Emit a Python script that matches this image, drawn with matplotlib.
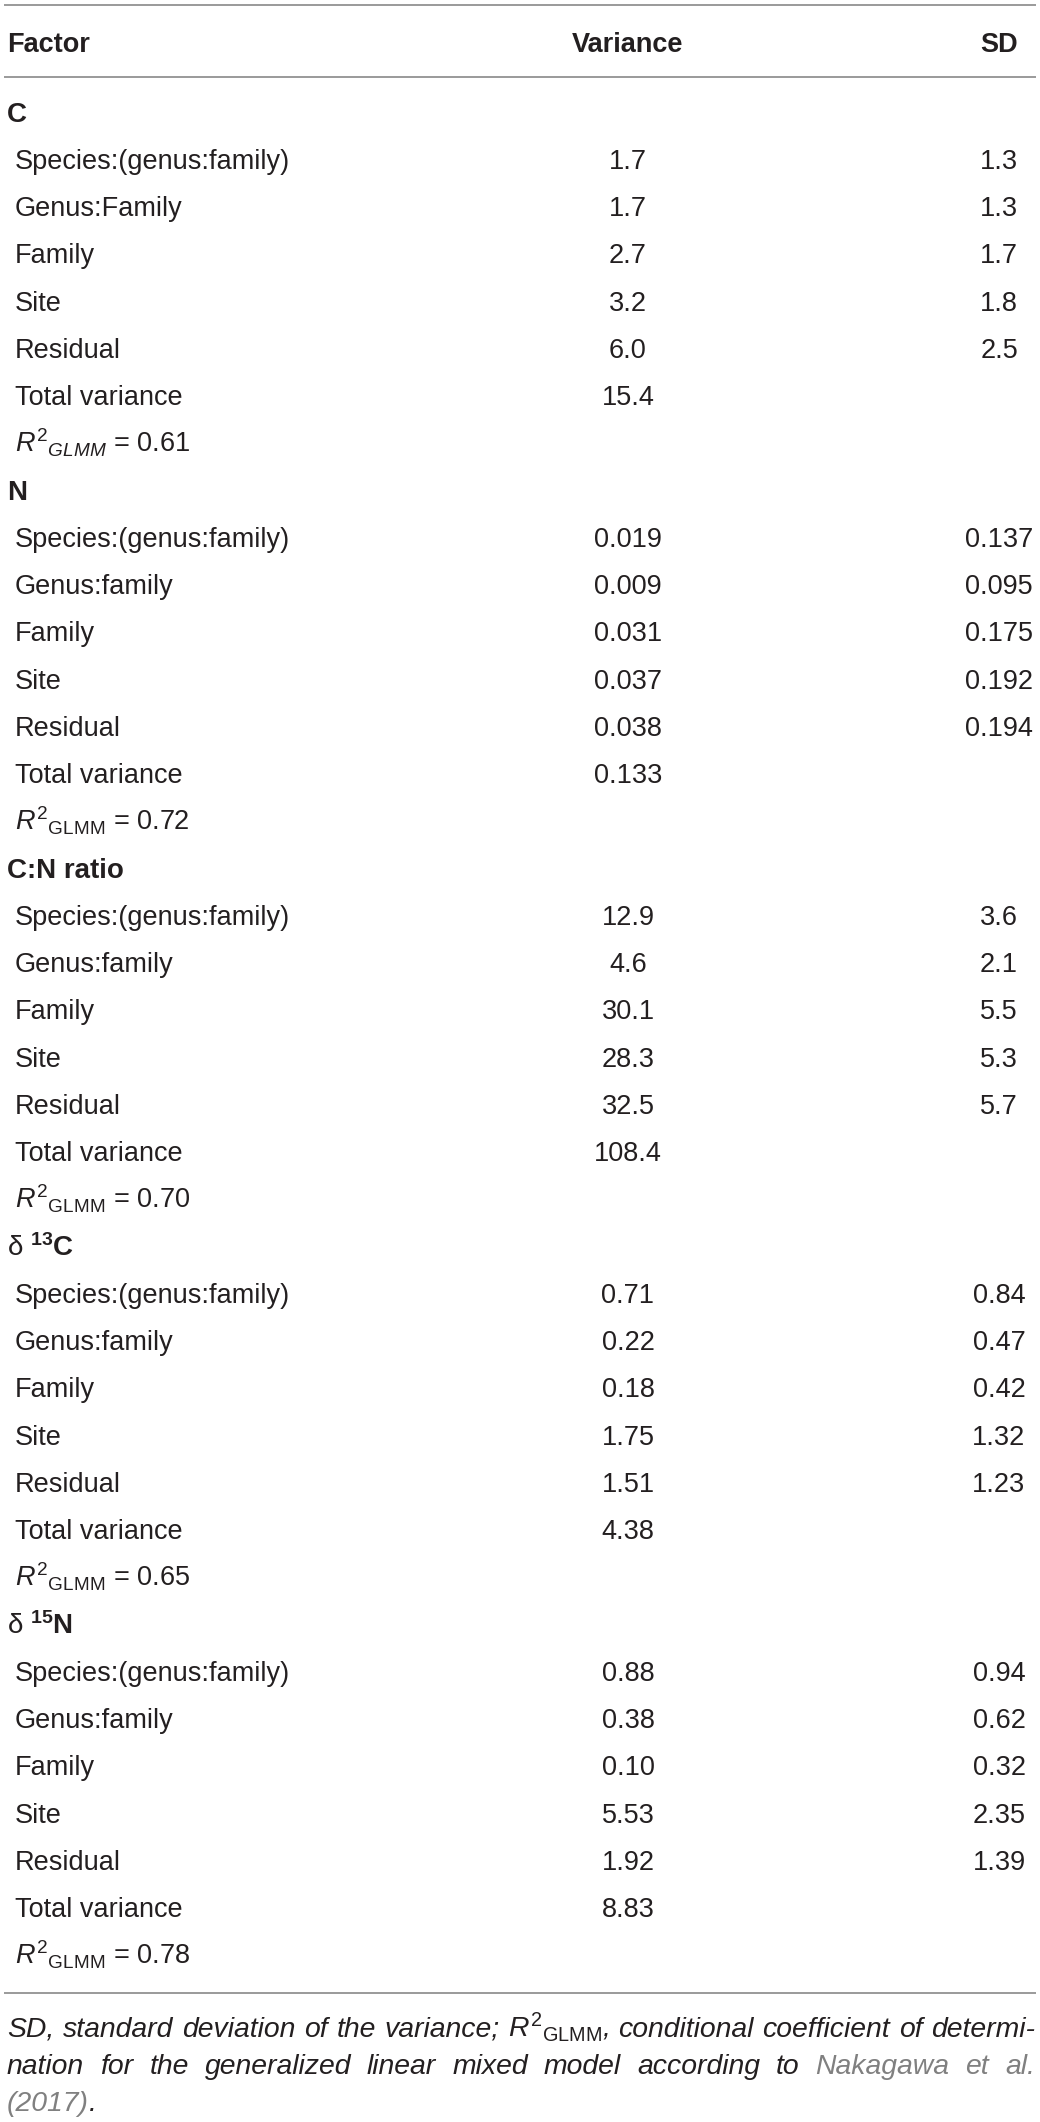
import matplotlib
matplotlib.use('Agg')
import matplotlib.pyplot as plt

plt.rcParams['font.family'] = ['Liberation Sans', 'DejaVu Sans']
plt.rcParams['mathtext.fontset'] = 'custom'
plt.rcParams['mathtext.rm'] = 'Liberation Sans'
plt.rcParams['mathtext.it'] = 'Liberation Sans:italic'
plt.rcParams['mathtext.bf'] = 'Liberation Sans:bold'

# Table content
columns = ['Factor', 'Variance', 'SD']
groups = ['C', 'N', 'C:N ratio',
          r'$\mathrm{\delta}\ ^{\mathbf{13}}\mathbf{C}$',
          r'$\mathrm{\delta}\ ^{\mathbf{15}}\mathbf{N}$']
factors_c = ['Species:(genus:family)', 'Genus:Family', 'Family', 'Site', 'Residual']
factors = ['Species:(genus:family)', 'Genus:family', 'Family', 'Site', 'Residual']

var_c = ['1.7', '1.7', '2.7', '3.2', '6.0']
sd_c = ['1.3', '1.3', '1.7', '1.8', '2.5']
var_n = ['0.019', '0.009', '0.031', '0.037', '0.038']
sd_n = ['0.137', '0.095', '0.175', '0.192', '0.194']
var_cn = ['12.9', '4.6', '30.1', '28.3', '32.5']
sd_cn = ['3.6', '2.1', '5.5', '5.3', '5.7']
var_d13c = ['0.71', '0.22', '0.18', '1.75', '1.51']
sd_d13c = ['0.84', '0.47', '0.42', '1.32', '1.23']
var_d15n = ['0.88', '0.38', '0.10', '5.53', '1.92']
sd_d15n = ['0.94', '0.62', '0.32', '2.35', '1.39']

totals = ['15.4', '0.133', '108.4', '4.38', '8.83']
r2_values = ['0.61', '0.72', '0.70', '0.65', '0.78']

variances = [var_c, var_n, var_cn, var_d13c, var_d15n]
sds = [sd_c, sd_n, sd_cn, sd_d13c, sd_d15n]
factor_lists = [factors_c, factors, factors, factors, factors]

line1 = ['SD,', 'standard', 'deviation', 'of', 'the', 'variance;',
         r'$R^{2}{}_{\mathrm{GLMM}}$,', 'conditional', 'coefficient', 'of', 'determi-']
line2 = ['nation', 'for', 'the', 'generalized', 'linear', 'mixed', 'model',
         'according', 'to', 'Nakagawa', 'et', 'al.']
cited = ['Nakagawa', 'et', 'al.']

# Layout (pixels, 1 data unit = 1 px)
W, H = 1040, 2122
TXT = '#231f20'
LINE = '#9a9a9a'
LINK = '#808080'
FS = 19.5
x_head, x_row, x_var, x_sd = 7, 15, 628, 999
first_y, step = 112, 47.25
base = 9.7  # cap-centre to baseline

fig = plt.figure(figsize=(W / 100, H / 100), dpi=100)
ax = fig.add_axes([0, 0, 1, 1])
ax.set_xlim(0, W)
ax.set_ylim(H, 0)
ax.axis('off')

# header
ax.text(x_head, 42 + base, columns[0], fontsize=FS, fontweight='bold', color=TXT, va='baseline')
ax.text(x_var, 42 + base, columns[1], fontsize=FS, fontweight='bold', color=TXT, va='baseline', ha='center')
ax.text(x_sd, 42 + base, columns[2], fontsize=FS, fontweight='bold', color=TXT, va='baseline', ha='center')

ax.hlines([5, 77], 4, 1036, color=LINE, lw=1.4)

row = 0
for g, name in enumerate(groups):
    y = first_y + row * step + base
    ax.text(x_head, y, name, fontsize=FS + 0.5, fontweight='bold', color=TXT, va='baseline')
    row += 1
    for f, v, s in zip(factor_lists[g], variances[g], sds[g]):
        y = first_y + row * step + base
        ax.text(x_row, y, f, fontsize=FS, color=TXT, va='baseline')
        ax.text(x_var, y, v, fontsize=FS, color=TXT, va='baseline', ha='center')
        ax.text(x_sd, y, s, fontsize=FS, color=TXT, va='baseline', ha='center')
        row += 1
    y = first_y + row * step + base
    ax.text(x_row, y, 'Total variance', fontsize=FS, color=TXT, va='baseline')
    ax.text(x_var, y, totals[g], fontsize=FS, color=TXT, va='baseline', ha='center')
    row += 1
    y = first_y + row * step + base
    sub = r'\mathit{GLMM}' if g == 0 else r'\mathrm{GLMM}'
    ax.text(x_row, y, r'$R^{2}{}_{' + sub + r'}$ = ' + r2_values[g],
            fontsize=FS, color=TXT, va='baseline')
    row += 1

ax.hlines([1993], 4, 1036, color=LINE, lw=1.4)

# footnote, justified lines
renderer = fig.canvas.get_renderer()


def natural_width(words, fs):
    tmp = [ax.text(0, 0, w, fontsize=fs, fontstyle='italic') for w in words]
    total = sum(t.get_window_extent(renderer).width for t in tmp)
    for t in tmp:
        t.remove()
    return total + (len(words) - 1) * 0.278 * fs * 100 / 72


def justify(words, colors, y, x0, x1, fs):
    texts = [ax.text(0, y, w, color=c, fontsize=fs, fontstyle='italic', va='baseline')
             for w, c in zip(words, colors)]
    widths = [t.get_window_extent(renderer).width for t in texts]
    gap = (x1 - x0 - sum(widths)) / (len(texts) - 1)
    x = x0
    for t, w in zip(texts, widths):
        t.set_x(x)
        x += w + gap


# footnote size so that the first line fills the width with ordinary spaces
fs_note = FS * 1026 / natural_width(line1, FS)
justify(line1, [TXT] * len(line1), 2037, 7, 1035, fs_note)
justify(line2, [LINK if w in cited else TXT for w in line2], 2074, 7, 1035, fs_note)
t = ax.text(7, 2111, '(2017)', color=LINK, fontsize=fs_note, fontstyle='italic', va='baseline')
w = t.get_window_extent(renderer).width
ax.text(7 + w, 2111, '.', color=TXT, fontsize=fs_note, fontstyle='italic', va='baseline')

fig.savefig('out.png', dpi=100)
